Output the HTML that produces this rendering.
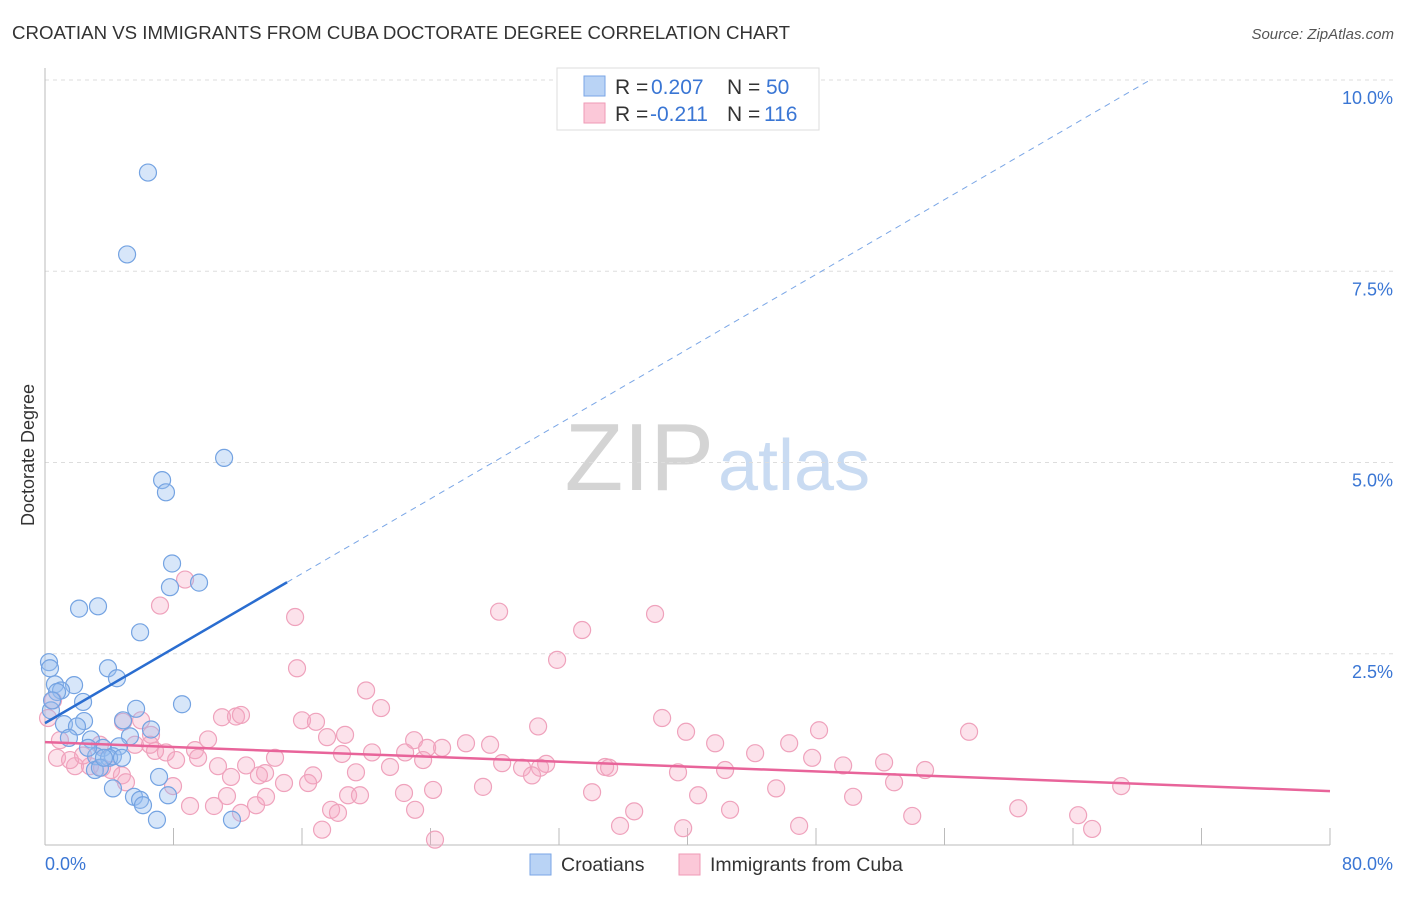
<!DOCTYPE html>
<html><head><meta charset="utf-8"><style>
body{margin:0;background:#fff;}
svg text{font-family:"Liberation Sans",sans-serif;}
</style></head><body>
<svg id="chart" width="1406" height="892" xmlns="http://www.w3.org/2000/svg">
<text x="12" y="39" font-size="18" fill="#333" textLength="778" lengthAdjust="spacingAndGlyphs">CROATIAN VS IMMIGRANTS FROM CUBA DOCTORATE DEGREE CORRELATION CHART</text>
<text x="1394" y="39" font-size="15" fill="#555" font-style="italic" text-anchor="end">Source: ZipAtlas.com</text>
<g>
<text x="714" y="490" font-size="96" fill="#d4d4d4" text-anchor="end" font-family="Liberation Serif,serif">ZIP</text>
<text x="718" y="490" font-size="72" fill="#c9dbf2">atlas</text>
</g>
<g id="grid"></g>
<g id="axes"></g>
<g id="pts"></g>
<g id="lines"></g>
<text transform="translate(34,455) rotate(-90)" font-size="18" fill="#333" text-anchor="middle">Doctorate Degree</text>
<g>
<rect x="557" y="68" width="262" height="62" fill="#fff" stroke="#ddd"/>
<rect x="584" y="76" width="21" height="20" fill="#b9d3f5" stroke="#7aa6e6"/>
<rect x="584" y="103" width="21" height="20" fill="#fbc8d8" stroke="#ef9ab6"/>
<text x="615" y="94" font-size="21" fill="#333">R = <tspan fill="#3a76d4" x="651">0.207</tspan><tspan x="727">N = </tspan><tspan fill="#3a76d4" x="766">50</tspan></text>
<text x="615" y="121" font-size="21" fill="#333">R = <tspan fill="#3a76d4" x="650">-0.211</tspan><tspan x="727">N = </tspan><tspan fill="#3a76d4" x="764">116</tspan></text>
</g>
<g>
<rect x="530" y="854" width="21" height="21" fill="#b9d3f5" stroke="#7aa6e6"/>
<text x="561" y="871" font-size="19.5" fill="#333">Croatians</text>
<rect x="679" y="854" width="21" height="21" fill="#fbc8d8" stroke="#ef9ab6"/>
<text x="710" y="871" font-size="19.5" fill="#333">Immigrants from Cuba</text>
</g>
</svg>
<script>
const yTicks=[2.5,5.0,7.5,10.0];
const yTickLabels=["2.5%","5.0%","7.5%","10.0%"];
const xTickLabels=["0.0%","80.0%"];
const blueX=[6.41,5.11,11.15,7.29,7.53,7.91,9.59,7.78,2.12,3.30,5.92,0.25,0.31,3.92,4.48,0.62,1.81,1.00,0.75,2.37,5.67,8.53,0.37,2.43,4.86,1.18,1.99,6.60,1.49,5.29,2.86,3.61,4.61,3.18,4.23,3.99,4.79,3.11,3.42,7.10,4.23,5.54,5.92,6.10,7.66,6.97,11.64,3.67,2.68,0.44];
const blueY=[8.79,7.72,5.06,4.77,4.61,3.68,3.43,3.37,3.09,3.12,2.78,2.39,2.31,2.31,2.18,2.10,2.09,2.02,2.00,1.87,1.78,1.84,1.76,1.62,1.63,1.58,1.55,1.51,1.40,1.42,1.38,1.27,1.29,1.16,1.16,1.14,1.14,0.98,1.01,0.89,0.74,0.63,0.59,0.52,0.65,0.33,0.33,1.14,1.27,1.89];
const pinkX=[8.72,7.16,15.57,28.27,37.98,33.44,31.88,15.69,19.99,20.92,0.50,0.19,4.86,5.98,11.02,11.89,12.20,16.00,16.87,38.42,30.70,48.19,57.53,39.91,41.72,46.33,18.68,17.56,10.15,6.60,5.60,22.98,23.79,24.72,26.21,27.71,22.42,20.36,18.49,7.53,9.34,6.85,44.21,47.76,49.69,52.24,0.75,1.87,2.80,4.11,3.55,4.79,9.53,10.77,12.52,14.32,13.70,13.32,16.69,19.36,21.48,23.54,28.46,29.70,31.20,30.82,30.32,34.87,35.12,39.41,42.34,54.79,67.00,5.04,7.97,11.58,16.38,14.88,18.87,19.61,22.35,24.16,27.27,34.06,40.66,45.52,52.86,9.03,10.52,11.33,13.14,13.76,17.81,18.24,23.04,36.68,42.65,50.31,60.59,64.32,17.25,24.28,35.80,39.73,46.95,53.99,65.19,12.20,8.16,6.54,0.93,1.56,2.37,3.42];
const pinkY=[3.47,3.13,2.98,3.05,3.02,2.81,2.42,2.31,2.02,1.79,1.89,1.66,1.61,1.63,1.67,1.68,1.70,1.63,1.61,1.66,1.55,1.50,1.48,1.48,1.33,1.33,1.44,1.41,1.38,1.44,1.31,1.37,1.27,1.27,1.33,1.31,1.21,1.21,1.19,1.21,1.24,1.23,1.20,1.14,1.04,1.08,1.14,1.03,1.03,0.98,1.01,0.91,1.14,1.03,1.04,1.14,0.94,0.91,0.91,0.95,1.02,1.11,1.07,1.01,1.06,1.01,0.91,1.02,1.01,0.95,0.98,0.98,0.77,0.82,0.77,0.89,0.81,0.81,0.65,0.65,0.68,0.72,0.76,0.69,0.65,0.74,0.82,0.51,0.51,0.64,0.52,0.63,0.46,0.42,0.46,0.44,0.46,0.63,0.48,0.39,0.20,0.07,0.25,0.22,0.25,0.38,0.21,0.42,1.11,1.31,1.37,1.11,1.17,1.31];
const blueTrend=[1.593,0.1222];
const blueSolidEnd=15.07, blueDashEnd=68.68;
const pinkTrend=[1.345,-0.008];

const X0=45,X1=1330,Y0=845,YTOP=80;
const sx=v=>X0+(X1-X0)*v/80;
const sy=v=>Y0-(Y0-YTOP)*v/10;
const NS="http://www.w3.org/2000/svg";
function mk(tag,attrs,parent){const e=document.createElementNS(NS,tag);for(const k in attrs)e.setAttribute(k,attrs[k]);parent.appendChild(e);return e;}
const grid=document.getElementById('grid'),axes=document.getElementById('axes'),pts=document.getElementById('pts'),lines=document.getElementById('lines');
yTicks.forEach((t,i)=>{
  const l=mk('line',{x1:X0,x2:1394,y1:sy(t),y2:sy(t),stroke:'#ddd','stroke-dasharray':'4,4'},grid);
  
  
  const tx=mk('text',{x:1393,y:sy(t)+24,'font-size':18,fill:'#3a76d4','text-anchor':'end'},axes);
  tx.textContent=yTickLabels[i];
  
  
});
mk('line',{x1:X0,x2:X0,y1:68,y2:Y0,stroke:'#bbb'},axes);
mk('line',{x1:X0,x2:X1,y1:Y0,y2:Y0,stroke:'#bbb'},axes);
for(let i=1;i<=10;i++){const x=sx(i*8);const t=mk('line',{x1:x,x2:x,y1:828,y2:Y0,stroke:'#bbb'},axes);
  
  }
const xl0=mk('text',{x:45,y:870,'font-size':18,fill:'#3a76d4'},axes);xl0.textContent=xTickLabels[0];


const xl1=mk('text',{x:1393,y:870,'font-size':18,fill:'#3a76d4','text-anchor':'end'},axes);xl1.textContent=xTickLabels[1];


pinkX.forEach((v,i)=>{const c=mk('circle',{cx:sx(v),cy:sy(pinkY[i]),r:8.5,fill:'rgba(246,168,195,0.33)',stroke:'#efa2bc','stroke-width':1.2},pts);
  
  });
blueX.forEach((v,i)=>{const c=mk('circle',{cx:sx(v),cy:sy(blueY[i]),r:8.5,fill:'rgba(150,190,240,0.38)',stroke:'#74a3e2','stroke-width':1.2},pts);
  
  });
const bl=mk('line',{x1:sx(0),y1:sy(blueTrend[0]),x2:sx(blueSolidEnd),y2:sy(blueTrend[0]+blueTrend[1]*blueSolidEnd),stroke:'#2a6dd0','stroke-width':2.5},lines);


const bd=mk('line',{x1:sx(blueSolidEnd),y1:sy(blueTrend[0]+blueTrend[1]*blueSolidEnd),x2:sx(blueDashEnd),y2:sy(blueTrend[0]+blueTrend[1]*blueDashEnd),stroke:'#7aa6e6','stroke-width':1,'stroke-dasharray':'6,5'},lines);


const pl=mk('line',{x1:sx(0),y1:sy(pinkTrend[0]),x2:sx(80),y2:sy(pinkTrend[0]+pinkTrend[1]*80),stroke:'#e8649a','stroke-width':2.5},lines);


</script>
</body></html>
